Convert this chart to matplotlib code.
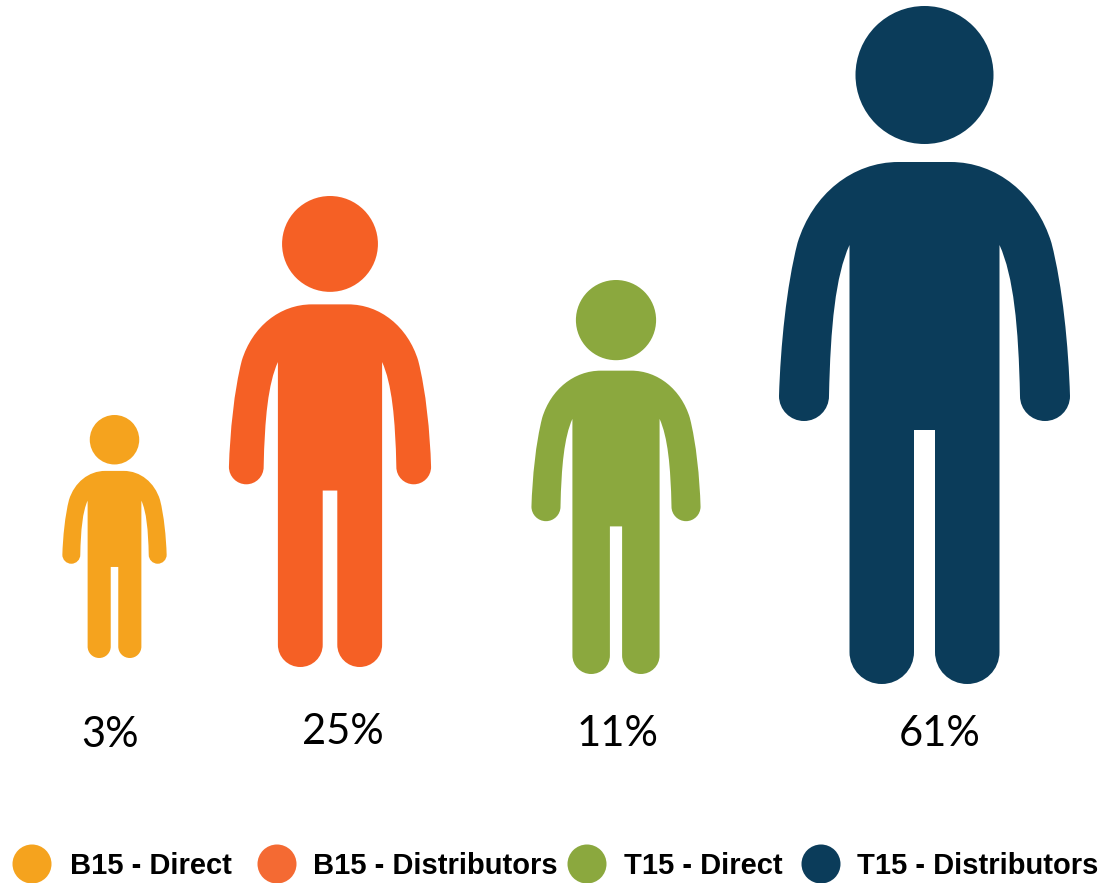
import matplotlib
matplotlib.use('Agg')
import matplotlib.pyplot as plt
from matplotlib.path import Path
from matplotlib.patches import PathPatch, Circle
from matplotlib.transforms import Affine2D

# data
groups = ['B15 - Direct', 'B15 - Distributors', 'T15 - Direct', 'T15 - Distributors']
shares = [3, 25, 11, 61]
colors = ['#F5A31E', '#F56025', '#8BA83E', '#0B3C5A']
legend_colors = ['#F5A31E', '#F46A33', '#8BA83E', '#0B3C5A']

# icon size and place, in pixels of the picture
icon_x = [114.5, 330, 616, 924.5]
icon_foot = [658, 667, 674, 684]
icon_height = [243, 471, 394, 678]
label_x = [110, 343, 618, 939.5]
label_y = [735, 732, 734, 734]
legend_x = [32, 277, 587, 821]
legend_text_x = [70, 313, 624, 857]

K = 0.5523


def person_body():
    # right half of the body, drawn for a person 678 tall, y going down from top of head
    v = [(0, 156), (26, 156)]
    c = [Path.MOVETO, Path.LINETO]

    def curve(p1, p2, p3):
        v.extend([p1, p2, p3])
        c.extend([Path.CURVE4] * 3)

    def line(p):
        v.append(p)
        c.append(Path.LINETO)

    # shoulder and outside of the arm
    curve((72, 156), (112, 188), (127, 237))
    curve((138, 280), (144, 340), (145.5, 390))
    # hand
    curve((145.5, 390 + 25 * K), (120.5 + 25 * K, 415), (120.5, 415))
    curve((120.5 - 25 * K, 415), (95.5, 390 + 25 * K), (95.5, 390))
    # inside of the arm
    curve((94, 320), (89, 270), (75, 239))
    # leg and foot
    line((75, 646))
    r = 32.25
    curve((75, 646 + r * K), (42.75 + r * K, 678), (42.75, 678))
    curve((42.75 - r * K, 678), (10.5, 646 + r * K), (10.5, 646))
    line((10.5, 424))

    # left half is the mirror
    left = [(-x, y) for x, y in reversed(v)]
    left_codes = [Path.LINETO]
    i = len(v) - 1
    while i > 0:
        if c[i] == Path.LINETO:
            left_codes.append(Path.LINETO)
            i -= 1
        else:
            left_codes.extend([Path.CURVE4] * 3)
            i -= 3
    verts = v + left + [(0, 156)]
    codes = c + left_codes + [Path.CLOSEPOLY]
    return Path(verts, codes)


fig = plt.figure(figsize=(11.16, 8.83), dpi=100)
ax = fig.add_axes([0, 0, 1, 1])
ax.set_xlim(0, 1116)
ax.set_ylim(883, 0)
ax.axis('off')

body = person_body()
for x, foot, h, col, share, lx, ly in zip(icon_x, icon_foot, icon_height, colors, shares, label_x, label_y):
    s = h / 678
    top = foot - h
    tr = Affine2D().scale(s).translate(x, top) + ax.transData
    ax.add_patch(PathPatch(body, facecolor=col, edgecolor='none', transform=tr))
    ax.add_patch(Circle((x, top + 69 * s), 69 * s, facecolor=col, edgecolor='none'))
    ax.text(lx, ly, f'{share}%', fontsize=30, family='Lato', color='black', ha='center', va='center')

for name, cx, tx, col in zip(groups, legend_x, legend_text_x, legend_colors):
    ax.add_patch(Circle((cx, 864), 19.5, facecolor=col, edgecolor='none'))
    ax.text(tx, 866, name, fontsize=21, family='Liberation Sans', fontweight='bold', color='black', ha='left', va='center')

fig.savefig('out.png', dpi=100)
